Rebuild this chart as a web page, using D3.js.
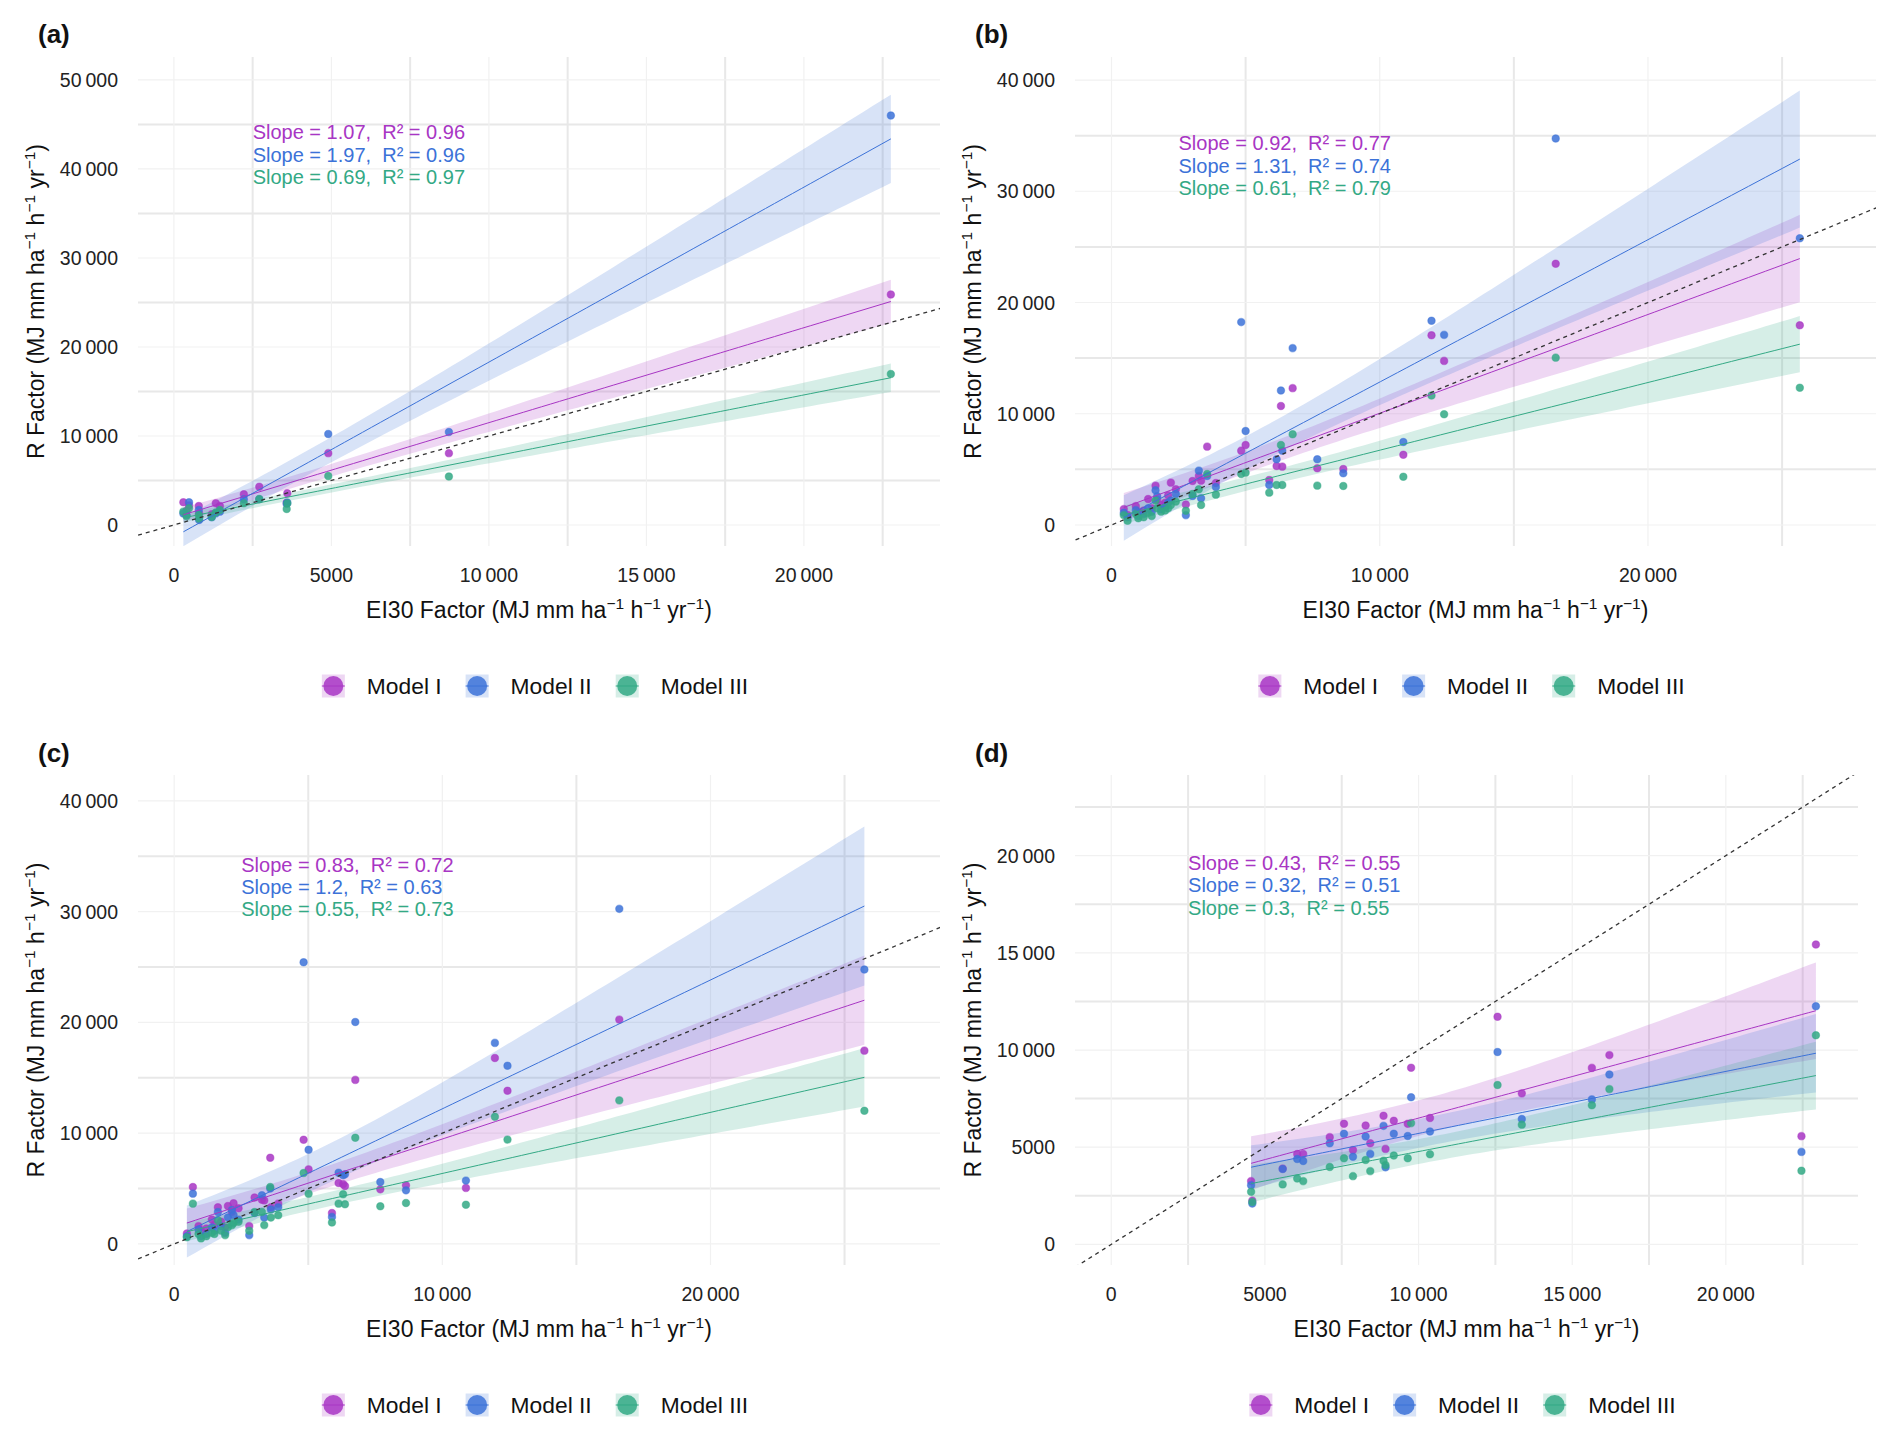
<!DOCTYPE html>
<html>
<head>
<meta charset="utf-8">
<script src="https://cdn.jsdelivr.net/npm/d3@7"></script>
<style>
  body { margin: 0; background: #fff; }
  text { font-family: "Liberation Sans", Arial, Roboto, sans-serif; }
</style>
</head>
<body>
<svg id="fig" width="1892" height="1435"></svg>
<script>
const models = ["Model I", "Model II", "Model III"];
const colors = ["#A836C4", "#3C72D8", "#33A985"];

// panel (a)
const eiA = [300, 400, 480, 790, 800, 1200, 1330, 1460, 2220, 2710, 3580, 3600, 4900, 8730, 22760];
const m1A = [2550, 1600, 2200, 2130, 1300, 1200, 2440, 2130, 3450, 4300, 2500, 3560, 8070, 8070, 25900];
const m2A = [1300, 1120, 2550, 1690, 560, 865, 1310, 1500, 2890, 2900, 2400, 2510, 10230, 10440, 46000];
const m3A = [1500, 1000, 1880, 1120, 700, 900, 1400, 1690, 2440, 2920, 1800, 2440, 5500, 5450, 16970];
const slopeA = ["1.07", "1.97", "0.69"];
const r2A = ["0.96", "0.96", "0.97"];
const xTicksA = [0, 5000, 10000, 15000, 20000];
const yTicksA = [0, 10000, 20000, 30000, 40000, 50000];

// panel (b)
const eiB = [459, 600, 907, 1000, 1200, 1366, 1500, 1642, 1704, 1850, 2000, 2113, 2213, 2400, 2773, 3022, 3257, 3340, 3567, 3892,
             4836, 5000, 5881, 6155, 6317, 6368, 6754, 7672, 8642, 10880, 11930, 12400, 16560, 25660];
const m1B = [1427, 900, 1697, 1200, 1300, 2337, 1500, 3537, 2277, 1800, 2000, 2667, 3807, 3207, 1847, 3957, 4406, 3985, 7040, 3777,
             6680, 7190, 4047, 5305, 10700, 5245, 12300, 5096, 5036, 6310, 17050, 14750, 23480, 17950];
const m2B = [1100, 700, 1337, 800, 1000, 1500, 1200, 3117, 2577, 1400, 1600, 2000, 2200, 2787, 887, 2600, 4885, 2400, 4400, 3417,
             18240, 8450, 3597, 5905, 12090, 6680, 15900, 5905, 4646, 7460, 18360, 17090, 34750, 25780];
const m3B = [887, 377, 1000, 600, 700, 1100, 800, 2200, 1500, 1200, 1300, 1500, 1800, 2100, 1277, 2787, 3207, 1800, 4586, 2727,
             4586, 4706, 2907, 3597, 7190, 3597, 8155, 3537, 3507, 4340, 11640, 9960, 15040, 12340];
const slopeB = ["0.92", "1.31", "0.61"];
const r2B = ["0.77", "0.74", "0.79"];
const xTicksB = [0, 10000, 20000];
const yTicksB = [0, 10000, 20000, 30000, 40000];

// panel (c)
const eiC = [473, 697, 907, 1000, 1200, 1405, 1500, 1630, 1750, 1900, 2003, 2151, 2214, 2400, 2799, 2997, 3271, 3358, 3582, 3607,
             3880, 4826, 5012, 5884, 6131, 6300, 6370, 6754, 7687, 8645, 10880, 11960, 12430, 16600, 25740];
const m1C = [950, 5140, 1610, 1200, 1400, 2210, 1700, 3310, 2000, 1500, 3430, 2900, 3670, 3220, 1610, 4190, 4000, 3930, 7780, 3310,
             3640, 9400, 6730, 2800, 5500, 5400, 5230, 14810, 4930, 5290, 5060, 16790, 13830, 20250, 17450];
const m2C = [700, 4540, 1300, 700, 900, 1500, 1200, 2890, 1600, 1000, 2400, 3070, 2620, 2200, 800, 2800, 4400, 2380, 5000, 3110,
             3310, 25430, 8500, 2440, 6430, 6200, 6290, 20040, 5590, 4840, 5720, 18150, 16090, 30250, 24770];
const m3C = [600, 3640, 900, 500, 700, 1000, 900, 2150, 1200, 800, 1500, 1700, 1900, 2000, 1190, 2890, 2890, 1700, 5140, 2380,
             2590, 6400, 4540, 1930, 3640, 4480, 3580, 9580, 3400, 3700, 3540, 11480, 9420, 12960, 12020];
const slopeC = ["0.83", "1.2", "0.55"];
const r2C = ["0.72", "0.63", "0.73"];
const xTicksC = [0, 10000, 20000];
const yTicksC = [0, 10000, 20000, 30000, 40000];

// panel (d)
const eiD = [4550, 4590, 5578, 6051, 6246, 7110, 7574, 7866, 8277, 8428, 8860, 8925, 9194, 9648, 9757, 10372, 12570, 13360, 15640, 16210, 22460, 22930];
const m1D = [3256, 2250, 3900, 4653, 4653, 5517, 6206, 4856, 6118, 5207, 6620, 4912, 6360, 6206, 9090, 6500, 11710, 7770, 9080, 9740, 5570, 15430];
const m2D = [3049, 2100, 3877, 4390, 4290, 5207, 5690, 4510, 5550, 4657, 6100, 3965, 5690, 5580, 7570, 5810, 9900, 6450, 7460, 8740, 4760, 12250];
const m3D = [2705, 2185, 3087, 3393, 3256, 3980, 4430, 3510, 4340, 3770, 4300, 4080, 4570, 4430, 6240, 4640, 8200, 6160, 7160, 7990, 3790, 10760];
const slopeD = ["0.43", "0.32", "0.3"];
const r2D = ["0.55", "0.51", "0.55"];
const xTicksD = [0, 5000, 10000, 15000, 20000];
const yTicksD = [0, 5000, 10000, 15000, 20000];

const panels = [
  {tag: "(a)", ei: eiA, ys: [m1A, m2A, m3A], slope: slopeA, r2: r2A, xt: xTicksA, yt: yTicksA,
   box: [138, 57, 940, 546], xd: [-1140, 24320], yd: [-2360, 52580], labY: 44110, tagX: 38, tagY: 43},
  {tag: "(b)", ei: eiB, ys: [m1B, m2B, m3B], slope: slopeB, r2: r2B, xt: xTicksB, yt: yTicksB,
   box: [1075, 57, 1876, 546], xd: [-1360, 28500], yd: [-1890, 42070], labY: 34320, tagX: 975, tagY: 43},
  {tag: "(c)", ei: eiC, ys: [m1C, m2C, m3C], slope: slopeC, r2: r2C, xt: xTicksC, yt: yTicksC,
   box: [138, 775, 940, 1265], xd: [-1350, 28560], yd: [-1900, 42330], labY: 34240, tagX: 38, tagY: 762},
  {tag: "(d)", ei: eiD, ys: [m1D, m2D, m3D], slope: slopeD, r2: r2D, xt: xTicksD, yt: yTicksD,
   box: [1075, 775, 1858, 1265], xd: [-1180, 24300], yd: [-1060, 24150], labY: 19620, tagX: 975, tagY: 762}
];

const svg = d3.select("#fig");
svg.append("rect").attr("width", 1892).attr("height", 1435).attr("fill", "#fff");

function fmt(v) {
  if (Math.abs(v) < 10000) return String(v);
  const s = String(v);
  return s.slice(0, s.length - 3) + "\u2009" + s.slice(-3);
}

// two-sided 95% t quantile (Cornish-Fisher expansion)
function tq(df) {
  const z = 1.959964;
  return z + (z ** 3 + z) / (4 * df) + (5 * z ** 5 + 16 * z ** 3 + 3 * z) / (96 * df * df)
    + (3 * z ** 7 + 19 * z ** 5 + 17 * z ** 3 - 15 * z) / (384 * df ** 3);
}

function lmFit(xs, ys) {
  const n = xs.length, mx = d3.mean(xs), my = d3.mean(ys);
  let sxx = 0, sxy = 0;
  xs.forEach((x, i) => { sxx += (x - mx) ** 2; sxy += (x - mx) * (ys[i] - my); });
  const b = sxy / sxx, a = my - b * mx;
  let sse = 0;
  xs.forEach((x, i) => { sse += (ys[i] - a - b * x) ** 2; });
  const s = Math.sqrt(sse / (n - 2)), t = tq(n - 2);
  const [x0, x1] = d3.extent(xs);
  return d3.range(80).map(i => {
    const x = x0 + (x1 - x0) * i / 79;
    const f = a + b * x, se = s * Math.sqrt(1 / n + (x - mx) ** 2 / sxx);
    return {x: x, y: f, lo: f - t * se, hi: f + t * se};
  });
}

// title with superscript units
function unitTitle(sel, prefix) {
  const parts = [[prefix + " (MJ mm ha", 0], ["\u22121", 1], [" h", 0], ["\u22121", 1], [" yr", 0], ["\u22121", 1], [")", 0]];
  let prevSup = false;
  parts.forEach(p => {
    const sup = p[1] === 1;
    sel.append("tspan")
      .attr("font-size", sup ? 15.5 : 23)
      .attr("dy", sup ? -9 : (prevSup ? 9 : 0))
      .text(p[0]);
    prevSup = sup;
  });
}

panels.forEach((p, k) => {
  const [L, T, R, B] = p.box;
  const x = d3.scaleLinear().domain(p.xd).range([L, R]);
  const y = d3.scaleLinear().domain(p.yd).range([B, T]);
  const g = svg.append("g");

  g.append("clipPath").attr("id", "clip" + k)
    .append("rect").attr("x", L).attr("y", T).attr("width", R - L).attr("height", B - T);

  // grid: lines between labelled breaks are the heavier ones
  const xStep = p.xt[1] - p.xt[0], yStep = p.yt[1] - p.yt[0];
  const xMid = d3.range(p.xt[0] - xStep / 2, p.xd[1], xStep).filter(v => v > p.xd[0]);
  const yMid = d3.range(p.yt[0] - yStep / 2, p.yd[1], yStep).filter(v => v > p.yd[0]);
  g.selectAll("line.vmid").data(xMid).join("line")
    .attr("x1", d => x(d)).attr("x2", d => x(d)).attr("y1", T).attr("y2", B)
    .attr("stroke", "#E8E8E8").attr("stroke-width", 2);
  g.selectAll("line.hmid").data(yMid).join("line")
    .attr("y1", d => y(d)).attr("y2", d => y(d)).attr("x1", L).attr("x2", R)
    .attr("stroke", "#E8E8E8").attr("stroke-width", 2);
  g.selectAll("line.vmaj").data(p.xt).join("line")
    .attr("x1", d => x(d)).attr("x2", d => x(d)).attr("y1", T).attr("y2", B)
    .attr("stroke", "#F1F1F1").attr("stroke-width", 1.2);
  g.selectAll("line.hmaj").data(p.yt).join("line")
    .attr("y1", d => y(d)).attr("y2", d => y(d)).attr("x1", L).attr("x2", R)
    .attr("stroke", "#F1F1F1").attr("stroke-width", 1.2);

  // tick labels
  g.selectAll("text.xt").data(p.xt).join("text")
    .attr("x", d => x(d)).attr("y", B + 36).attr("text-anchor", "middle")
    .attr("font-size", 19.5).attr("fill", "#222").text(d => fmt(d));
  g.selectAll("text.yt").data(p.yt).join("text")
    .attr("x", L - 20).attr("y", d => y(d) + 7).attr("text-anchor", "end")
    .attr("font-size", 19.5).attr("fill", "#222").text(d => fmt(d));

  const plot = g.append("g").attr("clip-path", "url(#clip" + k + ")");
  const fits = p.ys.map(ys => lmFit(p.ei, ys));

  fits.forEach((f, m) => {
    plot.append("path").datum(f)
      .attr("d", d3.area().x(d => x(d.x)).y0(d => y(d.lo)).y1(d => y(d.hi)))
      .attr("fill", colors[m]).attr("fill-opacity", 0.2);
  });

  p.ys.forEach((ys, m) => {
    plot.selectAll("circle.m" + m).data(ys).join("circle")
      .attr("cx", (d, i) => x(p.ei[i])).attr("cy", d => y(d)).attr("r", 3.7)
      .attr("fill", colors[m]).attr("fill-opacity", 0.85)
      .attr("stroke", colors[m]).attr("stroke-opacity", 0.45).attr("stroke-width", 1.2);
  });

  fits.forEach((f, m) => {
    plot.append("path").datum(f)
      .attr("d", d3.line().x(d => x(d.x)).y(d => y(d.y)))
      .attr("fill", "none").attr("stroke", colors[m]).attr("stroke-width", 1);
  });

  // 1:1 line
  const lo = Math.min(p.xd[0], p.yd[0]), hi = Math.max(p.xd[1], p.yd[1]);
  plot.append("line")
    .attr("x1", x(lo)).attr("y1", y(lo)).attr("x2", x(hi)).attr("y2", y(hi))
    .attr("stroke", "#333").attr("stroke-width", 1.3).attr("stroke-dasharray", "4,4");

  // slope annotations
  models.forEach((name, m) => {
    g.append("text")
      .attr("x", x(2500)).attr("y", y(p.labY) + m * 22.3)
      .attr("dominant-baseline", "central")
      .attr("font-size", 20).attr("fill", colors[m])
      .style("white-space", "pre")
      .text("Slope = " + p.slope[m] + ",  R\u00B2 = " + p.r2[m]);
  });

  // axis titles
  unitTitle(g.append("text").attr("x", (L + R) / 2).attr("y", B + 72).attr("text-anchor", "middle").attr("fill", "#111"), "EI30 Factor");
  unitTitle(g.append("text").attr("transform", `translate(${L - 94},${(T + B) / 2}) rotate(-90)`)
    .attr("text-anchor", "middle").attr("fill", "#111"), "R Factor");

  // panel tag
  g.append("text").attr("x", p.tagX).attr("y", p.tagY)
    .attr("font-size", 26).attr("font-weight", "bold").attr("fill", "#111").text(p.tag);

  // legend
  const leg = g.append("g");
  const ly = B + 140;
  let cx = 0;
  models.forEach((name, m) => {
    const it = leg.append("g");
    it.append("rect").attr("x", 0).attr("y", -11.5).attr("width", 23).attr("height", 23)
      .attr("fill", colors[m]).attr("fill-opacity", 0.2);
    it.append("circle").attr("cx", 11.5).attr("cy", 0).attr("r", 10)
      .attr("fill", colors[m]).attr("fill-opacity", 0.85);
    it.append("line").attr("x1", 0).attr("x2", 23).attr("y1", 0).attr("y2", 0)
      .attr("stroke", colors[m]).attr("stroke-width", 1);
    const t = it.append("text").attr("x", 45).attr("y", 8)
      .attr("font-size", 22.8).attr("fill", "#111").text(name);
    const w = 45 + t.node().getComputedTextLength();
    it.attr("transform", `translate(${cx},${ly})`);
    cx += w + 24;
  });
  const total = cx - 24;
  leg.attr("transform", `translate(${(L + R) / 2 - 4 - total / 2},0)`);
});
</script>
</body>
</html>
